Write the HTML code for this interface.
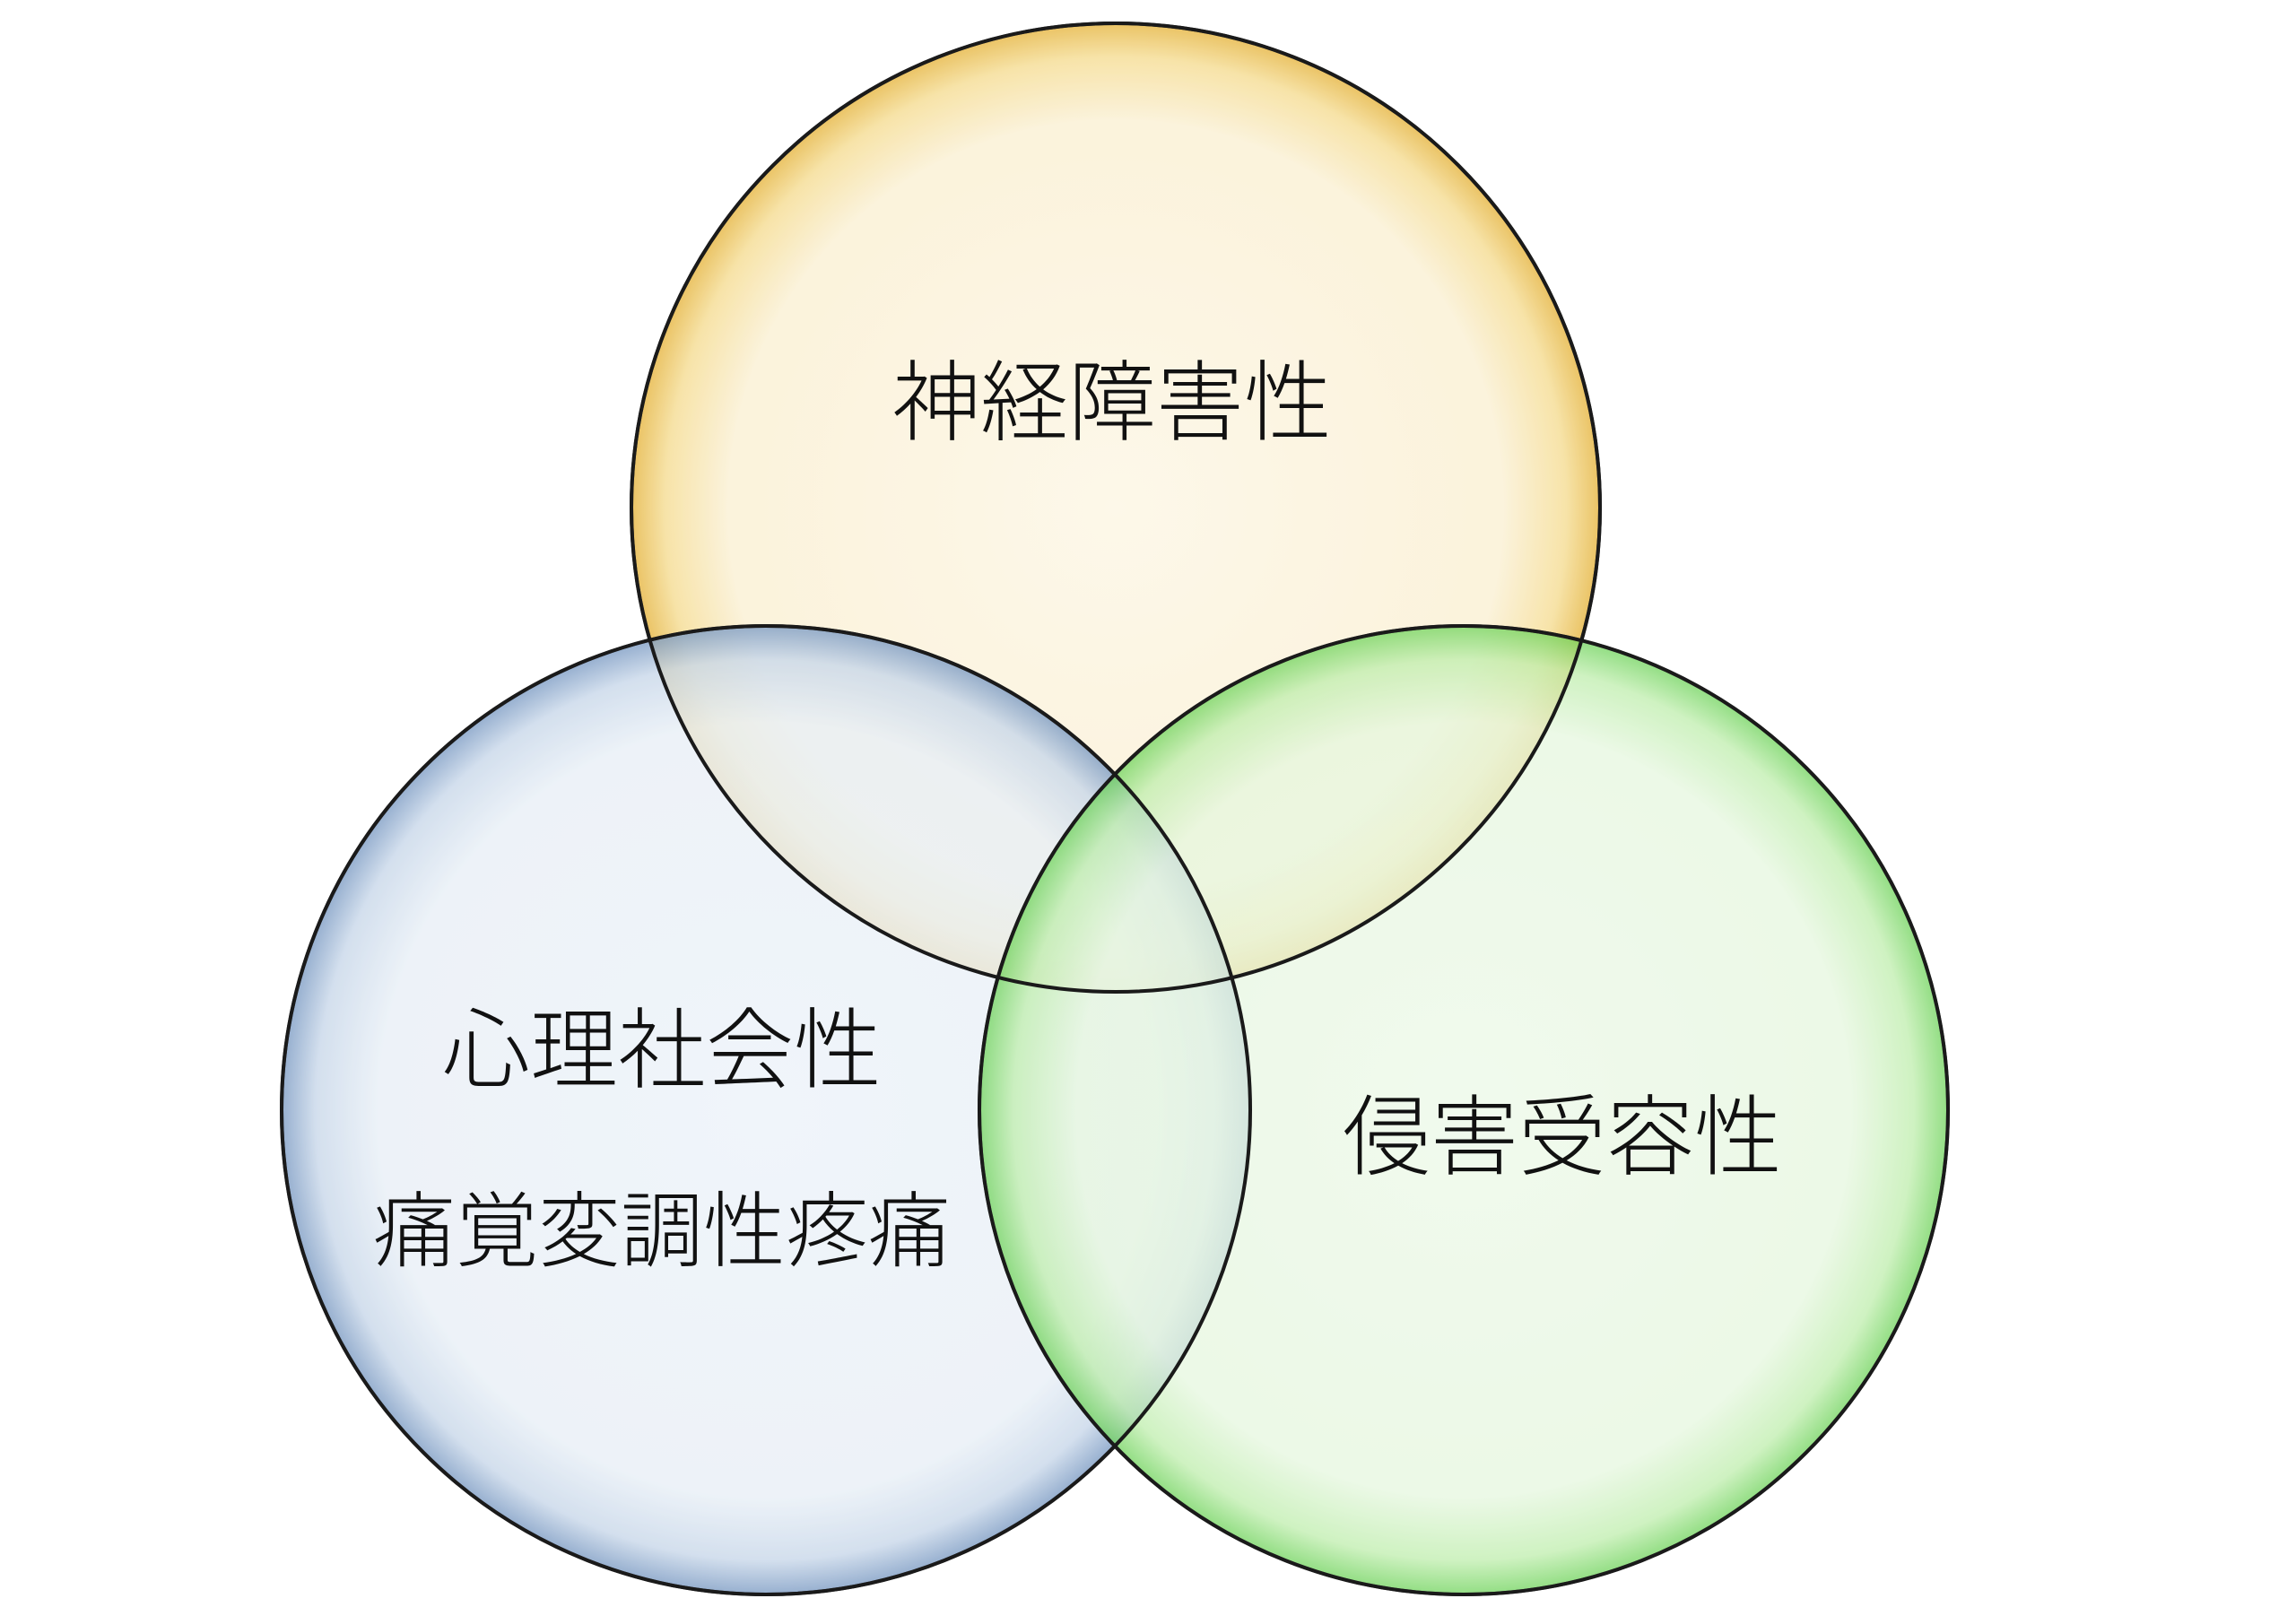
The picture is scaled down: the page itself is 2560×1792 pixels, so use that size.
<!DOCTYPE html>
<html><head><meta charset="utf-8"><style>
html,body{margin:0;padding:0;background:#fff;}
svg{display:block}
text{font-family:"Liberation Sans","Noto Sans CJK JP",sans-serif;fill:#111;font-weight:300;}
</style></head><body>
<svg width="2560" height="1792" viewBox="0 0 2560 1792">
<defs>
<radialGradient id="gy" cx="50%" cy="50%" r="50%">
<stop offset="0" stop-color="#fdf7e6"/><stop offset="0.8" stop-color="#fbf1d6"/><stop offset="0.93" stop-color="#f6df9a"/><stop offset="1" stop-color="#e7b94a"/></radialGradient>
<radialGradient id="gb" cx="50%" cy="50%" r="50%">
<stop offset="0" stop-color="#edf3f9"/><stop offset="0.8" stop-color="#e9f0f7"/><stop offset="0.93" stop-color="#c9d8ea"/><stop offset="1" stop-color="#7d9cc4"/></radialGradient>
<radialGradient id="gg" cx="50%" cy="50%" r="50%">
<stop offset="0" stop-color="#ecf9e8"/><stop offset="0.8" stop-color="#e6f7df"/><stop offset="0.93" stop-color="#bfeead"/><stop offset="1" stop-color="#6fd35b"/></radialGradient>
</defs>
<g stroke="#1a1a1a" stroke-width="4">
<circle cx="1244" cy="566" r="540" fill="url(#gy)" opacity="0.85"/>
<circle cx="854" cy="1238" r="540" fill="url(#gb)" opacity="0.8"/>
<circle cx="1632" cy="1238" r="540" fill="url(#gg)" opacity="0.75"/>
</g>
<g fill="none" stroke="#1a1a1a" stroke-width="4">
<circle cx="1244" cy="566" r="540"/>
<circle cx="854" cy="1238" r="540"/>
<circle cx="1632" cy="1238" r="540"/>
</g>
<text x="1240" y="483" font-size="98" text-anchor="middle">神経障害性</text>
<text x="738" y="1205" font-size="98" text-anchor="middle">心理社会性</text>
<text x="738" y="1405" font-size="92" text-anchor="middle">痛覚変調性疼痛</text>
<text x="1742" y="1302" font-size="98" text-anchor="middle">侵害受容性</text>
</svg>
</body></html>
